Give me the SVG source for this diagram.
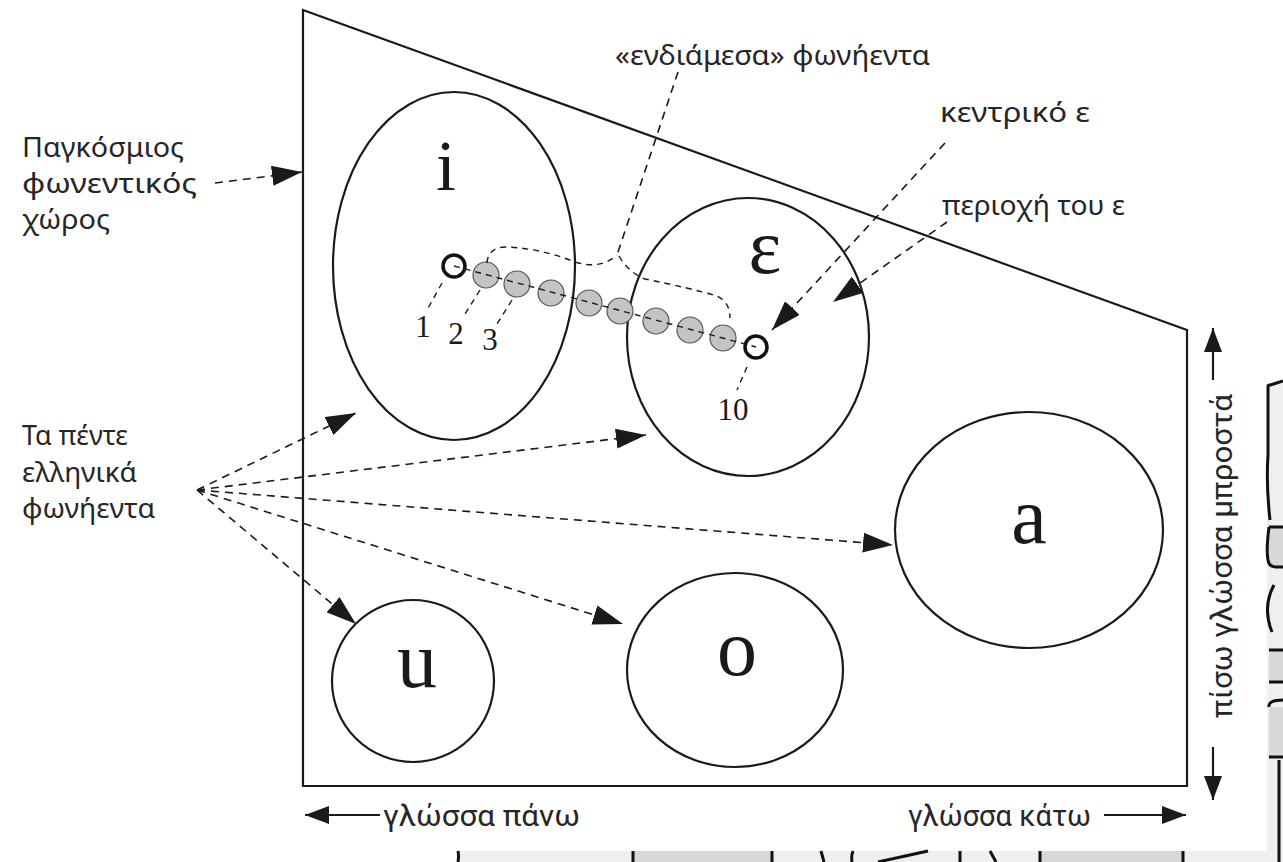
<svg xmlns="http://www.w3.org/2000/svg" width="1283" height="862" viewBox="0 0 1283 862">
<defs>
<marker id="ah" markerUnits="userSpaceOnUse" markerWidth="30" markerHeight="20" refX="30" refY="10" orient="auto"><path d="M0,0 L30,10 L0,20 z" fill="#1a1a1a"/></marker>
<marker id="ahs" markerUnits="userSpaceOnUse" markerWidth="24" markerHeight="18" refX="24" refY="9" orient="auto"><path d="M0,0 L24,9 L0,18 z" fill="#1a1a1a"/></marker>
</defs>
<style>
.sans{font-family:"Noto Sans","Open Sans",sans-serif;fill:#262626;font-size:27px}
.cond{font-family:"Roboto","Noto Sans",sans-serif;fill:#262626;font-size:29px}
.serif{font-family:"Liberation Serif",serif;fill:#1a1a1a;text-anchor:middle}
.ln{fill:none;stroke:#1a1a1a;stroke-width:2.2}
.dash{fill:none;stroke:#1a1a1a;stroke-width:1.6;stroke-dasharray:8 6}
.ldr{fill:none;stroke:#1a1a1a;stroke-width:1.4;stroke-dasharray:6 5}
.bk{fill:none;stroke:#111;stroke-width:3}
.dot{fill:#c4c4c4;stroke:#555;stroke-width:1.2}
.hol{fill:#fff;stroke:#111;stroke-width:3.5}
</style>
<rect width="1283" height="862" fill="#fff"/>
<g id="background-sketch">
<path d="M457,851 H1267 V383 H1283 V862 H457 Z" fill="#efefef"/>
<rect x="633" y="851" width="139" height="11" fill="#d8d8d8"/>
<rect x="1040" y="851" width="143" height="11" fill="#d8d8d8"/>
<rect x="1269" y="527" width="14" height="40" fill="#d8d8d8"/>
<rect x="1269" y="650" width="14" height="32" fill="#d8d8d8"/>
<rect x="1269" y="707" width="14" height="50" fill="#d8d8d8"/>
<path class="bk" d="M458,851 Q459,856 458,862 M633,851 V862 M772,851 V862 M821,851 L824,862 M853,851 Q851,856 852,862 M878,862 L928,851 M960,851 V862 M990,851 L996,862 M1040,851 V862 M1183,851 V862"/>
<path class="bk" d="M1267,386 L1283,381 M1268,386 V455 Q1266,485 1270,520 M1269,527 H1283 M1269,527 Q1266,550 1268,560 Q1269,567 1276,567 H1283 M1274,585 Q1262,607 1272,632 M1269,650 H1283 M1269,682 H1283 M1269,707 Q1268,700 1283,700 M1269,757 H1283 M1279,760 V862"/>
</g>
<g id="vowel-space">
<path class="ln" d="M303,10 L1187,330 L1187,786 L303,786 Z"/>
</g>
<g id="vowel-i">
<ellipse class="ln" cx="454" cy="266" rx="121" ry="174"/>
<text class="serif" x="446" y="190" font-size="72">i</text>
</g>
<g id="vowel-e">
<ellipse class="ln" cx="748" cy="337" rx="121" ry="139"/>
<text class="serif" x="765" y="273" font-size="78">ε</text>
</g>
<g id="vowel-a">
<ellipse class="ln" cx="1029" cy="530" rx="134" ry="118"/>
<text class="serif" x="1029" y="543" font-size="80">a</text>
</g>
<g id="vowel-o">
<ellipse class="ln" cx="735" cy="670" rx="108" ry="97"/>
<text class="serif" x="737" y="675" font-size="80">o</text>
</g>
<g id="vowel-u">
<ellipse class="ln" cx="413" cy="681" rx="81" ry="81"/>
<text class="serif" x="417" y="687" font-size="80">u</text>
</g>
<g id="intermediate-vowels">
<circle class="dot" cx="486" cy="275" r="13"/>
<circle class="dot" cx="517" cy="284" r="13"/>
<circle class="dot" cx="551" cy="293" r="13"/>
<circle class="dot" cx="589" cy="303" r="13"/>
<circle class="dot" cx="620" cy="311" r="13"/>
<circle class="dot" cx="656" cy="321" r="13"/>
<circle class="dot" cx="690" cy="330" r="13"/>
<circle class="dot" cx="723" cy="338" r="13"/>
<circle class="hol" cx="454" cy="266" r="11"/>
<circle class="hol" cx="756" cy="347" r="11"/>
<path class="ldr" d="M454,266 L756,347"/>
<path class="ldr" d="M487,263 Q488,248 505,247 Q540,248 575,262 Q600,270 617,255 M619,256 Q628,272 645,279 Q690,288 717,296 Q730,302 730,318"/>
<path class="ldr" d="M442,283 L427,310 M480,290 L465,314 M512,300 L497,324 M747,367 L737,390"/>
<text class="serif" x="423" y="337" font-size="31">1</text>
<text class="serif" x="456" y="344" font-size="31">2</text>
<text class="serif" x="490" y="350" font-size="31">3</text>
<text class="serif" x="733" y="420" font-size="31">10</text>
</g>
<g id="connectors">
<path class="dash" d="M215,183 L302,172" marker-end="url(#ah)"/>
<path class="dash" d="M197,490 L356,413" marker-end="url(#ah)"/>
<path class="dash" d="M197,490 L646,435" marker-end="url(#ah)"/>
<path class="dash" d="M197,490 L893,545" marker-end="url(#ah)"/>
<path class="dash" d="M197,490 L623,624" marker-end="url(#ah)"/>
<path class="dash" d="M197,490 L356,624" marker-end="url(#ah)"/>
<path class="dash" d="M678,72 L617,255"/>
<path class="dash" d="M945,143 L772,330" marker-end="url(#ah)"/>
<path class="dash" d="M947,222 L833,302" marker-end="url(#ah)"/>
<path class="ln" d="M380,815 L305,815" marker-end="url(#ahs)"/>
<path class="ln" d="M1104,815 L1186,815" marker-end="url(#ahs)"/>
<path class="ln" d="M1213,380 L1213,328" marker-end="url(#ahs)"/>
<path class="ln" d="M1213,747 L1213,800" marker-end="url(#ahs)"/>
</g>
<g id="labels">
<text class="sans" x="22" y="157" textLength="162" lengthAdjust="spacingAndGlyphs">Παγκόσμιος</text>
<text class="sans" x="22" y="193" textLength="175" lengthAdjust="spacingAndGlyphs">φωνεντικός</text>
<text class="sans" x="22" y="229" textLength="88" lengthAdjust="spacingAndGlyphs">χώρος</text>
<text class="sans" x="22" y="445" textLength="106" lengthAdjust="spacingAndGlyphs">Τα πέντε</text>
<text class="sans" x="22" y="482" textLength="115" lengthAdjust="spacingAndGlyphs">ελληνικά</text>
<text class="sans" x="22" y="518" textLength="133" lengthAdjust="spacingAndGlyphs">φωνήεντα</text>
<text class="sans" x="615" y="65" textLength="315" lengthAdjust="spacingAndGlyphs">«ενδιάμεσα» φωνήεντα</text>
<text class="sans" x="940" y="122" textLength="150" lengthAdjust="spacingAndGlyphs">κεντρικό ε</text>
<text class="sans" x="942" y="215" textLength="183" lengthAdjust="spacingAndGlyphs">περιοχή του ε</text>
<text class="cond" x="383" y="826" textLength="197" lengthAdjust="spacingAndGlyphs">γλώσσα πάνω</text>
<text class="cond" x="908" y="826" textLength="183" lengthAdjust="spacingAndGlyphs">γλώσσα κάτω</text>
<text class="cond" transform="translate(1232,556) rotate(-90)" text-anchor="middle" textLength="324" lengthAdjust="spacingAndGlyphs">πίσω γλώσσα μπροστά</text>
</g>
</svg>
